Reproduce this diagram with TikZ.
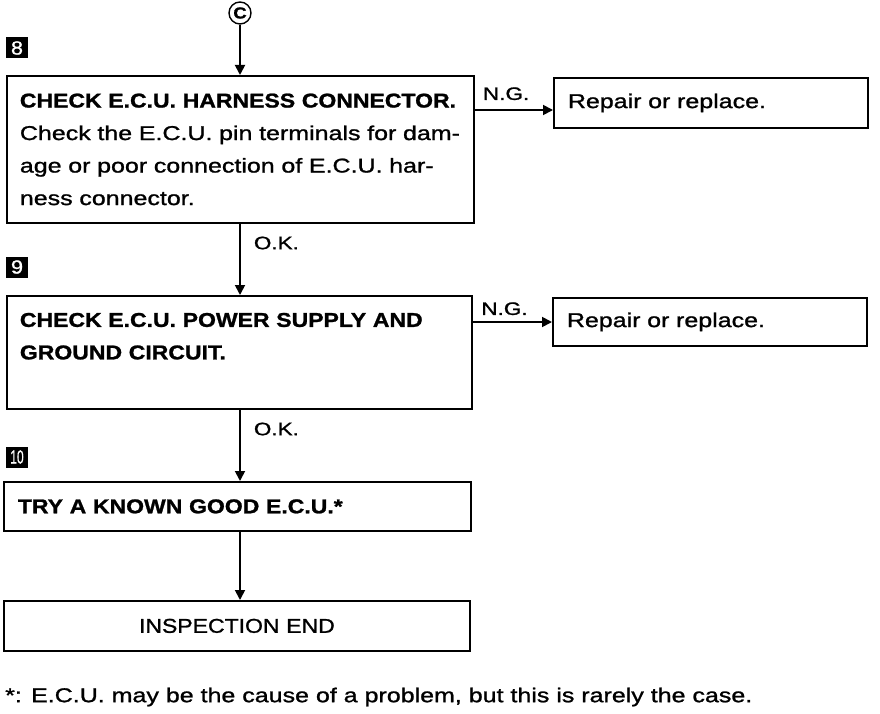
\documentclass[tikz,border=0pt]{standalone}
\usepackage{fontspec}
\setmainfont{Liberation Sans}[FakeStretch=1.25, FakeBold=1.2, BoldFeatures={FakeStretch=1.15, FakeBold=1.2}]
\newfontfamily\capsfont{Liberation Sans}[FakeStretch=1.15, FakeBold=1.2]
\usetikzlibrary{arrows.meta, positioning}

\begin{document}
\begin{tikzpicture}[
  x=1pt, y=-1pt,
  box/.style={draw, line width=1.8pt, align=left, inner xsep=13pt, inner ysep=0pt, font=\fontsize{20}{32.5}\selectfont},
  numbox/.style={fill=black, text=white, minimum width=22pt, minimum height=21pt, inner sep=0pt, font=\fontsize{19}{19}\selectfont\capsfont},
  arr/.style={-{Triangle[width=10pt,length=10pt]}, line width=1.8pt},
  lbl/.style={font=\fontsize{18}{18}\selectfont, inner sep=0pt}
]
\useasboundingbox (0,0) rectangle (880,714);

% Connector C
\node[circle, draw, line width=1.4pt, minimum size=22pt, inner sep=0pt, font=\fontsize{16}{16}\selectfont\bfseries] (pc) at (240,13) {C};

% Step 8
\node[numbox] (n8) at (17,48) {8};
\node[box, anchor=north west, text width=441pt, minimum height=147pt] (chk8) at (6,75) {\textbf{CHECK E.C.U. HARNESS CONNECTOR.}\\Check the E.C.U. pin terminals for dam-\\age or poor connection of E.C.U. har-\\ness connector.};
\node[box, anchor=north west, inner xsep=14pt, text width=286pt, minimum height=50pt] (rep8) at (553,77) {Repair or replace.};

% Step 9
\node[numbox] (n9) at (17,267) {9};
\node[box, anchor=north west, text width=439pt, minimum height=113pt] (chk9) at (6,295) {\textbf{CHECK E.C.U. POWER SUPPLY AND}\\\textbf{GROUND CIRCUIT.}\\\mbox{}};
\node[box, anchor=north west, inner xsep=14pt, text width=286pt, minimum height=48pt] (rep9) at (552,297) {Repair or replace.};

% Step 10
\node[numbox] (n10) at (17,457) {\scalebox{0.55}[1]{10}};
\node[box, anchor=north west, inner xsep=14pt, text width=439pt, minimum height=49pt] (try) at (3,481) {\textbf{TRY A KNOWN GOOD E.C.U.*}};
\node[box, anchor=north west, align=center, text width=440pt, minimum height=50pt, font=\fontsize{20}{20}\selectfont\capsfont] (fin) at (3,600) {INSPECTION END};

% Note
\node[anchor=west, inner sep=0pt, font=\fontsize{20}{20}\selectfont] (note) at (5,697) {*: E.C.U. may be the cause of a problem, but this is rarely the case.};

\coordinate (ng8) at (500,110);
\coordinate (ng9) at (500,322);

\draw[arr] (pc.south) -- (chk8.north -| pc);
\draw[arr] (chk8.south -| pc) -- node[lbl, pos=0.27, right=13pt]{O.K.} (chk9.north -| pc);
\draw[arr] (chk9.south -| pc) -- node[lbl, pos=0.27, right=13pt]{O.K.} (try.north -| pc);
\draw[arr] (try.south -| pc) -- (fin.north -| pc);
\draw[arr] (chk8.east |- ng8) -- node[lbl, pos=0.4, above=9pt]{N.G.} (rep8.west |- ng8);
\draw[arr] (chk9.east |- ng9) -- node[lbl, pos=0.4, above=6pt]{N.G.} (rep9.west |- ng9);
\end{tikzpicture}
\end{document}
